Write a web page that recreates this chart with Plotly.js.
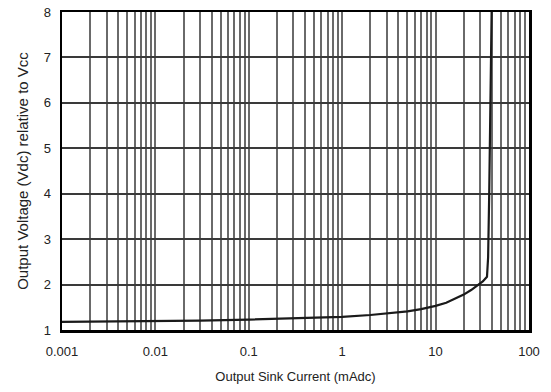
<!DOCTYPE html>
<html><head><meta charset="utf-8">
<script src="https://cdn.plot.ly/plotly-3.0.1.min.js"></script>
<style>html,body{margin:0;padding:0;background:#fff}</style>
</head><body><div id="chart" style="width:551px;height:392px"></div>
<script>
const currentMA = [0.001, 0.003, 0.01, 0.03, 0.1, 0.3, 1, 2, 3, 5, 7, 10, 13, 16, 20, 24, 28, 32, 35.5, 36.5, 37.5, 39.8];
const voltage   = [1.18, 1.185, 1.19, 1.205, 1.23, 1.255, 1.29, 1.33, 1.36, 1.41, 1.46, 1.53, 1.6, 1.68, 1.78, 1.88, 1.98, 2.07, 2.17, 2.6, 4.0, 8];
const xMajor = [0.001, 0.01, 0.1, 1, 10, 100];
const xMajorText = ['0.001', '0.01', '0.1', '1', '10', '100'];
const yTicks = [1, 2, 3, 4, 5, 6, 7, 8];

const xv = [], xt = [];
for (let i = 0; i < xMajor.length; i++) {
  xv.push(xMajor[i]); xt.push(xMajorText[i]);
  if (i < xMajor.length - 1) for (let m = 2; m <= 9; m++) { xv.push(xMajor[i] * m); xt.push(''); }
}

const trace = {x: currentMA, y: voltage, mode: 'lines', line: {color: '#1a1a1a', width: 2.2, shape: 'linear'}, hoverinfo: 'none'};
const font = {family: 'Liberation Sans, Arial, sans-serif', size: 13, color: '#222'};
const layout = {
  width: 551, height: 392,
  margin: {l: 62, r: 22, t: 12, b: 62},
  paper_bgcolor: '#fff', plot_bgcolor: '#fff',
  showlegend: false, font: font,
  xaxis: {type: 'log', range: [-3, 2], tickvals: xv, ticktext: xt, showgrid: true, gridcolor: '#6a6a6a', gridwidth: 2,
    showline: true, linecolor: '#000', linewidth: 2.5, mirror: true, ticks: '', zeroline: false, ticklabelstandoff: 8,
    tickfont: font, title: {text: 'Output Sink Current (mAdc)', font: font, standoff: 14}},
  yaxis: {range: [1, 8], tickvals: yTicks, showgrid: true, gridcolor: '#3a3a3a', gridwidth: 2,
    showline: true, linecolor: '#000', linewidth: 2.5, mirror: true, ticks: '', zeroline: false, ticklabelstandoff: 6,
    tickfont: font, title: {text: 'Output Voltage (Vdc) relative to Vcc', font: {family: font.family, size: 15, color: '#222'}, standoff: 12}}
};
Plotly.newPlot('chart', [trace], layout, {staticPlot: true, displayModeBar: false});
</script></body></html>
